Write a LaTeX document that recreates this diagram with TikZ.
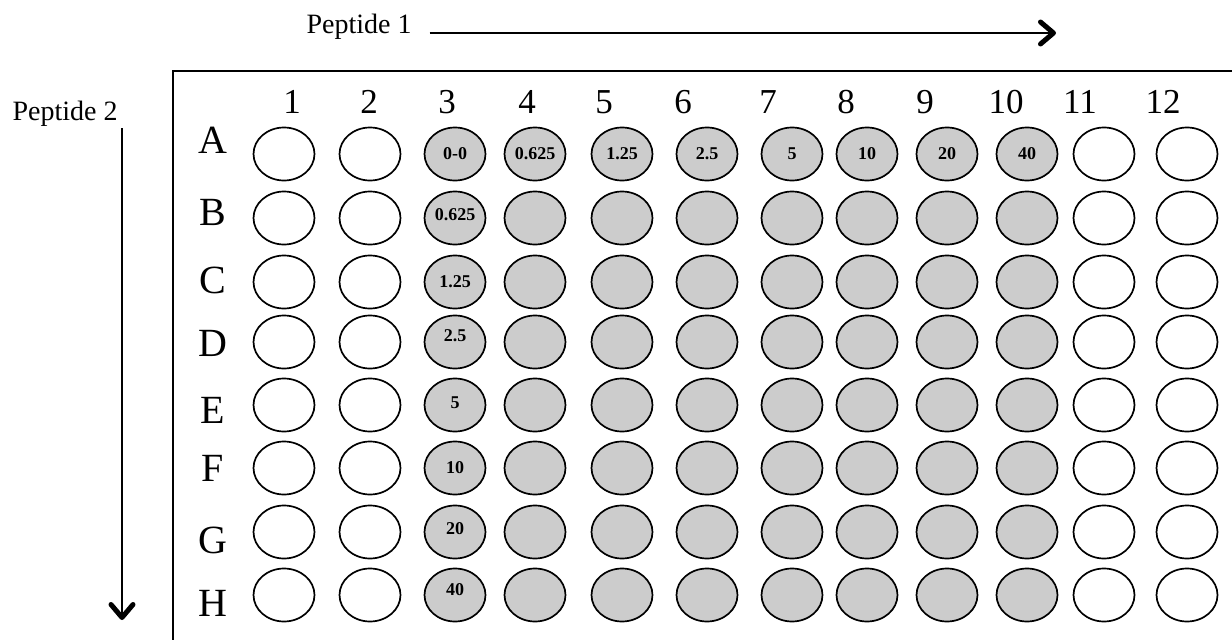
\documentclass[tikz,border=0pt]{standalone}
\usepackage{fontspec}
\setmainfont{Liberation Serif}
\usepackage{tikz}
\usetikzlibrary{arrows.meta,shapes.geometric}
\tikzset{
  well/.style  ={ellipse, draw=black, line width=1.7pt, fill=white, inner sep=0pt,
                 minimum width=61pt, minimum height=53pt},
  dwell/.style ={well, fill=black!20},
  wtext/.style ={font=\fontsize{18}{18}\selectfont\bfseries, inner sep=0pt},
  collab/.style={font=\fontsize{35}{35}\selectfont, inner sep=0pt},
  rowlab/.style={font=\fontsize{40}{40}\selectfont, inner sep=0pt},
  axlab/.style ={font=\fontsize{28}{28}\selectfont, inner sep=0pt, anchor=base},
  axarr/.style ={line width=2.6pt,
                 -{Straight Barb[length=13pt, width=22pt, line width=5pt, round]}},
  plate/.style ={line width=1.7pt},
}

\begin{document}
\begin{tikzpicture}[x=1pt, y=-1pt]
  \useasboundingbox (0,0) rectangle (1232,640);
  % plate outline, cut at right and bottom
  \draw[plate] (1250,71) -| (173,660);
  % axis labels
  \node[axlab] (pep1) at (359,33) {Peptide 1};
  \node[axlab] (pep2) at (65,120) {Peptide 2};
  \coordinate (p1end) at (1056,33);
  \coordinate (p2top) at (122,128);
  \coordinate (p2end) at (122,620);
  \draw[axarr] ([xshift=18pt]pep1.base east) -- (p1end);
  \draw[axarr] (p2top) -- (p2end);
  % column and row headings
  \foreach \c/\x in {1/292,2/369,3/447,4/527,5/604,6/683,7/768,8/846,9/925,10/1006,11/1080,12/1163}
    \node[collab] (col\c) at (\x,102) {\c};
  \foreach \r/\y in {A/140,B/212,C/280,D/343,E/410,F/468,G/540,H/603}
    \node[rowlab] (row\r) at (213,\y) {\r};
  % wells
  \foreach \c/\x in {1/284,2/370,3/455,4/535,5/622,6/707,7/792,8/867,9/947,10/1027,11/1104,12/1187}
    \foreach \r/\y in {A/154,B/218,C/282,D/342,E/405,F/468,G/532,H/595} {
      \ifnum\c<3 \node[well] (w\r\c) at (\x,\y) {};
      \else\ifnum\c>10 \node[well] (w\r\c) at (\x,\y) {};
      \else \node[dwell] (w\r\c) at (\x,\y) {};
      \fi\fi
    }
  % concentrations
  \foreach \w/\t/\dy in {A3/0-0/0, A4/0.625/0, A5/1.25/0, A6/2.5/0, A7/5/0, A8/10/0,
                         A9/20/0, A10/40/0, B3/0.625/3, C3/1.25/0, D3/2.5/6,
                         E3/5/2, F3/10/0, G3/20/3, H3/40/5}
    \node[wtext] (t\w) at ([yshift=\dy pt]w\w.center) {\t};
\end{tikzpicture}
\end{document}
